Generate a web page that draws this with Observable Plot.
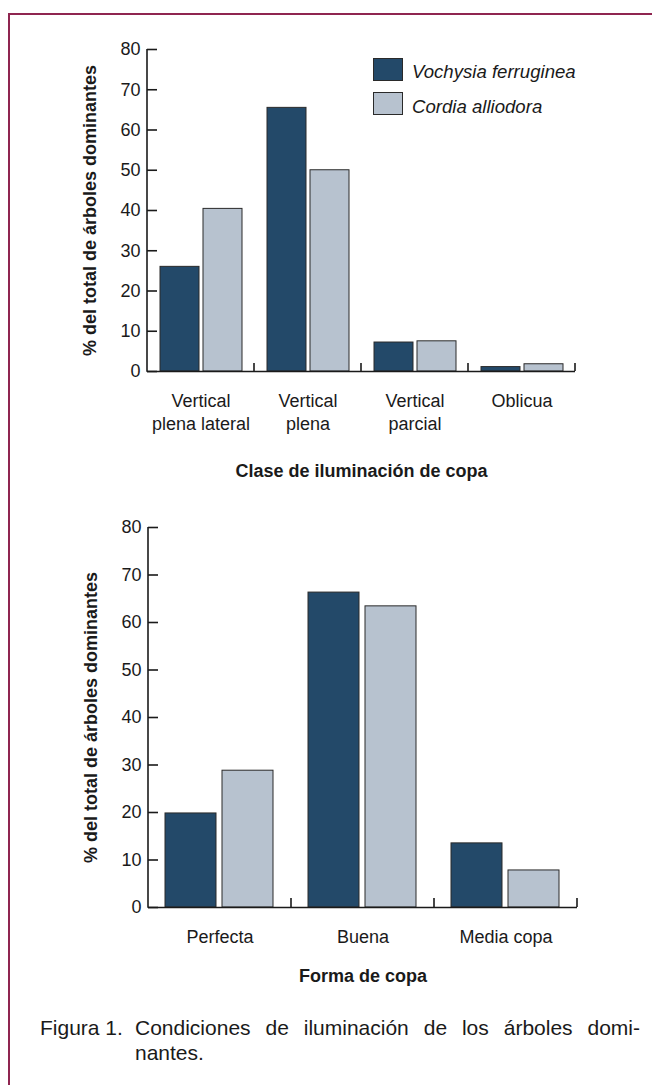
<!DOCTYPE html>
<html><head><meta charset="utf-8">
<script src="https://cdn.jsdelivr.net/npm/d3@7"></script>
<script src="https://cdn.jsdelivr.net/npm/@observablehq/plot@0.6"></script>
<style>
html,body{margin:0;padding:0;background:#fff;}
#page{position:relative;width:652px;height:1085px;overflow:hidden;font-family:'Liberation Sans',Arial,Helvetica,sans-serif;color:#1a1a1a;}
#border{position:absolute;left:8px;top:13px;right:-10px;bottom:-10px;border-left:2px solid #8f2550;border-top:2px solid #8f2550;}
#c1{position:absolute;left:0;top:0;}
#c2{position:absolute;left:0;top:495px;}
.sw{position:absolute;width:28px;height:21px;border:1px solid #2a2a2a;}
.lg{position:absolute;font-size:18.6px;line-height:20px;font-style:italic;white-space:nowrap;}
.cap{position:absolute;font-size:21px;line-height:25px;}
#capBody{width:505px;}
#capLine1{text-align:justify;text-align-last:justify;white-space:nowrap;}
</style></head>
<body>
<div id="page">
  <div id="border"></div>
  <div id="c1"></div>
  <div id="c2"></div>
  <div id="legend"></div>
  <div class="cap" style="left:40px;top:1015px;white-space:nowrap;">Figura 1.</div>
  <div class="cap" id="capBody" style="left:135px;top:1015px;">
    <div id="capLine1">Condiciones de iluminación de los árboles domi-</div>
    <div>nantes.</div>
  </div>
</div>
<script>
// ---- data ----
const species = ["Vochysia ferruginea", "Cordia alliodora"];
const speciesColors = ["#234969", "#b7c2cf"];
const yTicks = [0, 10, 20, 30, 40, 50, 60, 70, 80];
const yTitle = "% del total de árboles dominantes";

const cats1 = ["Vertical plena lateral", "Vertical plena", "Vertical parcial", "Oblicua"];
const catLabels1 = ["Vertical\nplena lateral", "Vertical\nplena", "Vertical\nparcial", "Oblicua"];
const vochysia1 = [26, 65.5, 7.2, 1.1];
const cordia1 = [40.4, 50, 7.5, 1.8];
const xTitle1 = "Clase de iluminación de copa";

const cats2 = ["Perfecta", "Buena", "Media copa"];
const catLabels2 = ["Perfecta", "Buena", "Media copa"];
const vochysia2 = [19.8, 66.3, 13.5];
const cordia2 = [28.8, 63.4, 7.8];
const xTitle2 = "Forma de copa";

// ---- legend ----
const legend = document.getElementById("legend");
species.forEach((s, i) => {
  const sw = document.createElement("div");
  sw.className = "sw";
  sw.style.left = "373px"; sw.style.top = (58 + i * 34) + "px";
  sw.style.background = speciesColors[i];
  legend.appendChild(sw);
  const t = document.createElement("div");
  t.className = "lg";
  t.style.left = "412px"; t.style.top = (62 + i * 35) + "px";
  t.textContent = s;
  legend.appendChild(t);
});

function chart({cats, labels, a, b, xTitle, height, marginTop, marginBottom, marginRight, titleOffset, tickPad, upTick}) {
  const data = cats.flatMap((c, i) => [
    {cat: c, sp: species[0], v: a[i]},
    {cat: c, sp: species[1], v: b[i]}
  ]);
  const ink = "#1a1a1a";
  const plot = Plot.plot({
    width: 652, height, marginLeft: 147, marginRight, marginTop, marginBottom,
    style: {fontFamily: "'Liberation Sans', Arial, Helvetica, sans-serif", fontSize: "18px", color: ink, background: "transparent", overflow: "visible"},
    fx: {domain: cats, padding: 0},
    x: {domain: species, paddingInner: 0.1, paddingOuter: 0.285, axis: null},
    y: {domain: [0, 80]},
    color: {domain: species, range: speciesColors},
    marks: [
      Plot.barY(data, {fx: "cat", x: "sp", y: "v", fill: "sp", stroke: "#2a2a2a", strokeWidth: 1}),
      Plot.ruleY([0], {stroke: ink, strokeWidth: 1.6}),
      Plot.axisY({ticks: yTicks, tickSize: -10, tickPadding: 17, strokeWidth: 1.6, label: null}),
      Plot.axisY({ticks: yTicks, tickSize: 0, tickFormat: () => "", label: yTitle, labelArrow: false, labelAnchor: "center", labelOffset: 64, fontWeight: "bold"}),
      Plot.axisFx({anchor: "bottom", tickSize: 0, tickPadding: tickPad, lineHeight: 1.28, label: null,
        tickFormat: d => labels[cats.indexOf(d)]}),
      Plot.axisFx({anchor: "bottom", tickSize: 0, tickFormat: () => "", label: xTitle, labelArrow: false, labelAnchor: "center", labelOffset: titleOffset, fontWeight: "bold"})
    ]
  });
  // axis line and group separator ticks from the library's scales
  const fx = plot.scale("fx"), y = plot.scale("y");
  const y0 = y.apply(0), yTop = y.apply(80);
  const x0 = fx.apply(cats[0]);
  const svg = d3.select(plot.tagName.toLowerCase() === "svg" ? plot : plot.querySelector("svg"));
  const g = svg.append("g").attr("stroke", ink).attr("stroke-width", 1.6).attr("fill", "none");
  g.append("line").attr("x1", x0).attr("x2", x0).attr("y1", y0 + 0.8).attr("y2", yTop);
  cats.forEach(c => {
    const xe = fx.apply(c) + fx.bandwidth;
    g.append("line").attr("x1", xe).attr("x2", xe).attr("y1", y0).attr("y2", y0 - upTick);
  });
  return plot;
}

document.getElementById("c1").appendChild(chart({
  cats: cats1, labels: catLabels1, a: vochysia1, b: cordia1, xTitle: xTitle1,
  height: 495, marginTop: 49, marginBottom: 124, marginRight: 77, titleOffset: 105, tickPad: 19, upTick: 8
}));
document.getElementById("c2").appendChild(chart({
  cats: cats2, labels: catLabels2, a: vochysia2, b: cordia2, xTitle: xTitle2,
  height: 500, marginTop: 32, marginBottom: 88, marginRight: 75, titleOffset: 74, tickPad: 19, upTick: 9
}));
</script>
</body></html>
